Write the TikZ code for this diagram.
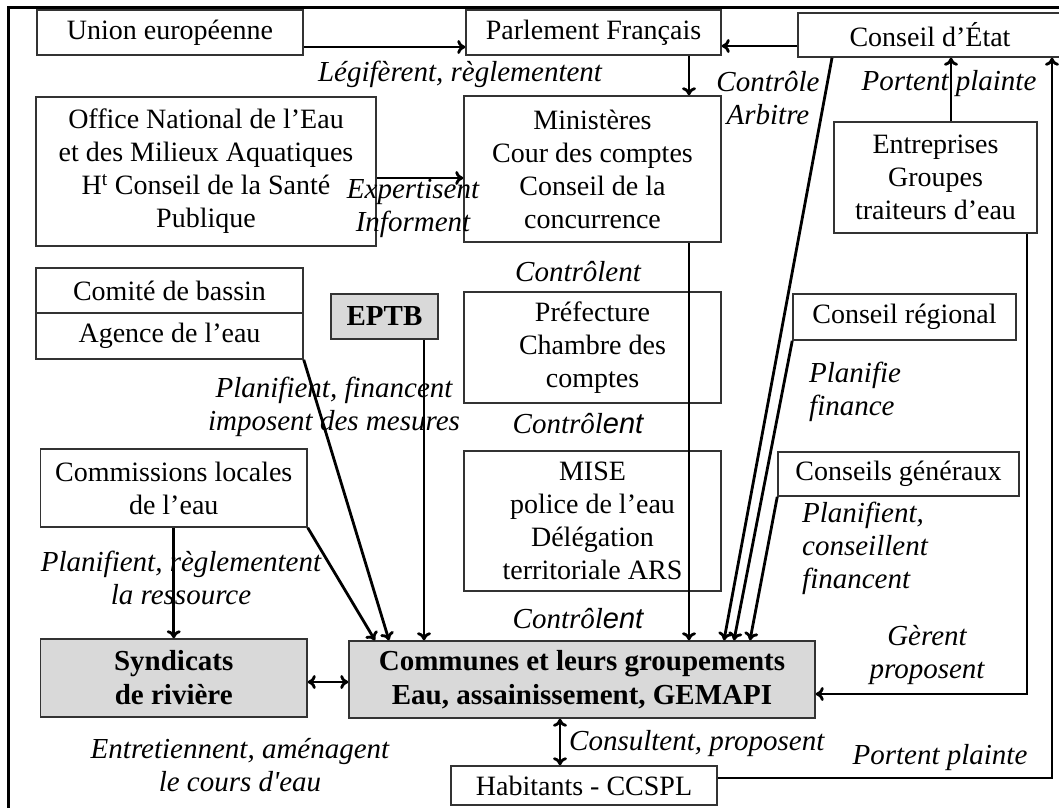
\documentclass[tikz,border=0pt]{standalone}
\usepackage{fontspec}
\setmainfont{Liberation Serif}
\newfontfamily\sansfont{Liberation Sans}
\usetikzlibrary{arrows.meta}
\begin{document}
\begin{tikzpicture}[x=1pt,y=-1pt]
    \tikzstyle{every node}+=[inner sep=0pt, font=\fontsize{28}{33}\selectfont]
    \tikzstyle{box}=[draw=black!80, line width=1.5pt, align=center]
    \tikzstyle{greybox}=[box, fill=black!15, font=\fontsize{29}{34}\selectfont\bfseries]
    \tikzstyle{lbl}=[font=\fontsize{29}{33}\selectfont\itshape, align=center]
    \tikzstyle{arr}=[line width=2.8pt, -{To[length=8pt,width=14pt]}]
    \tikzstyle{darr}=[line width=2.8pt, {To[length=8pt,width=14pt]}-{To[length=8pt,width=14pt]}]
    \useasboundingbox (0,0) rectangle (1059,807);
    \draw [line width=3pt] (8,7) rectangle (1075,825);
    % boxes
    \node [box, minimum width=266pt, minimum height=45pt] (union) at (170,32.5) {Union européenne};
    \node [box, minimum width=255pt, minimum height=45pt] (parl) at (593.5,32.5) {Parlement Français};
    \node [box, minimum width=264pt, minimum height=44pt] (ce) at (930,35) {Conseil d’État};
    \node [box, minimum width=340pt, minimum height=149pt] (onema) at (206,171.5) {Office National de l’Eau\\et des Milieux Aquatiques\\H\textsuperscript{t} Conseil de la Santé\\Publique};
    \node [box, minimum width=257pt, minimum height=146pt] (mini) at (592.5,169) {Ministères\\Cour des comptes\\Conseil de la\\concurrence};
    \node [box, minimum width=203pt, minimum height=111pt] (entr) at (935.5,177.5) {Entreprises\\Groupes\\traiteurs d’eau};
    \node [box, minimum width=267pt, minimum height=45pt] (comite) at (169.5,290.5) {Comité de bassin};
    \node [box, minimum width=267pt, minimum height=46pt] (agence) at (169.5,336) {Agence de l’eau};
    \node [greybox, minimum width=107pt, minimum height=45pt] (eptb) at (384.5,316.5) {EPTB};
    \node [box, minimum width=257pt, minimum height=111pt] (pref) at (592.5,347.5) {Préfecture\\Chambre des\\comptes};
    \node [box, minimum width=223pt, minimum height=46pt] (creg) at (904.5,317) {Conseil régional};
    \node [box, minimum width=266.5pt, minimum height=78pt] (cle) at (173.75,488) {Commissions locales\\de l’eau};
    \node [box, minimum width=257pt, minimum height=140pt] (mise) at (592.5,521) {MISE\\police de l’eau\\Délégation\\territoriale ARS};
    \node [box, minimum width=241pt, minimum height=44pt] (cgen) at (898.5,474) {Conseils généraux};
    \node [greybox, minimum width=266.5pt, minimum height=78pt] (synd) at (173.75,678) {Syndicats\\de rivière};
    \node [greybox, minimum width=466pt, minimum height=77pt] (comm) at (582,679.5) {Communes et leurs groupements\\Eau, assainissement, GEMAPI};
    \node [box, minimum width=266pt, minimum height=39pt] (hab) at (584,785.5) {Habitants - CCSPL};
    % labels
    \node [lbl] (legif) at (460,74) {Légifèrent, règlementent};
    \node [lbl] (arbitre) at (768,98) {Contrôle\\Arbitre};
    \node [lbl] (plainte1) at (949,84) {Portent plainte};
    \node [lbl] (expert) at (413,208) {Expertisent\\Informent};
    \node [lbl] (ctrl1) at (578,272) {Contrôlent};
    \node [lbl] (ctrl2) at (578,424) {Contrôl{\sansfont ent}};
    \node [lbl] (ctrl3) at (578,619) {Contrôl{\sansfont ent}};
    \node [lbl] (finance1) at (334,407) {Planifient, financent\\imposent des mesures};
    \node [lbl, anchor=west, align=left] (finance2) at (809,392) {Planifie\\finance};
    \node [lbl, anchor=west, align=left] (finance3) at (802,548) {Planifient,\\conseillent\\financent};
    \node [lbl] (regle) at (181,578) {Planifient, règlementent\\la ressource};
    \node [lbl] (entret) at (240,765) {Entretiennent, aménagent\\le cours d\textquotesingle eau};
    \node [lbl, anchor=west] (consult) at (569,744) {Consultent, proposent};
    \node [lbl] (gerent) at (927,655) {Gèrent\\proposent};
    \node [lbl] (plainte2) at (940,758) {Portent plainte};
    % connectors
    \draw [arr] ([yshift=-14.5pt]union.east) -- ([yshift=-14.5pt]union.east -| parl.west);
    \draw [arr] ([yshift=-11pt]ce.west) -- ([yshift=-11pt]ce.west -| parl.east);
    \draw [arr] ([xshift=95.5pt]parl.south) -- ([xshift=95.5pt]parl.south |- mini.north);
    \draw [arr] ([yshift=-6.5pt]onema.east) -- ([yshift=-6.5pt]onema.east -| mini.west);
    \draw [arr] ([xshift=96.5pt]mini.south) -- ([xshift=96.5pt]mini.south |- comm.north);
    \draw [arr] ([xshift=-98pt]ce.south) -- ([xshift=142pt]comm.north);
    \draw [arr] (creg.south west) -- ([xshift=152pt]comm.north);
    \draw [arr] (cgen.south west) -- ([xshift=168pt]comm.north);
    \draw [arr] ([xshift=91.5pt]entr.south) |- ([yshift=-14.5pt]comm.east);
    \draw [arr] ([xshift=15.5pt]entr.north) -- ([xshift=15.5pt]entr.north |- ce.south);
    \draw [arr] ([yshift=7.5pt]hab.east) -| ([xshift=122pt]ce.south);
    \draw [darr] ([xshift=-22pt]comm.south) -- ([xshift=-22pt]comm.south |- hab.north);
    \draw [darr] ([yshift=-4pt]synd.east) -- ([yshift=-4pt]synd.east -| comm.west);
    \draw [arr] (cle.south) -- (synd.north);
    \draw [arr] (cle.south east) -- ([xshift=-207pt]comm.north);
    \draw [arr] (agence.south east) -- ([xshift=-193pt]comm.north);
    \draw [arr] ([xshift=39.5pt]eptb.south) -- ([xshift=39.5pt]eptb.south |- comm.north);
\end{tikzpicture}
\end{document}
